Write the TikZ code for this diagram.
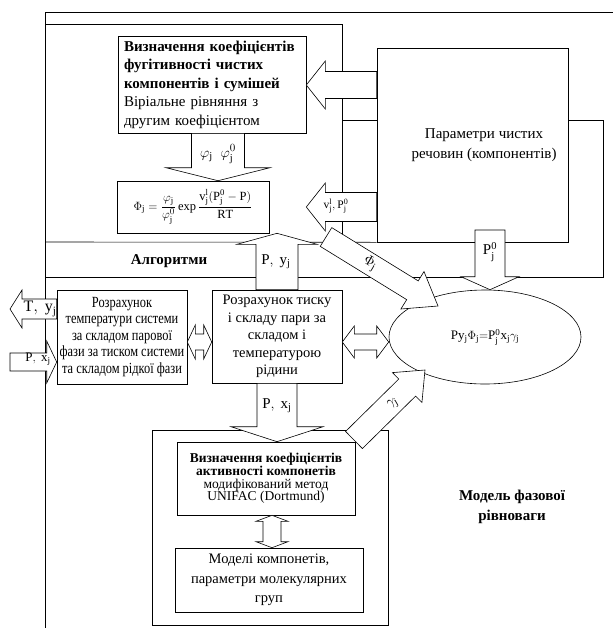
\documentclass[tikz,border=0pt]{standalone}
\usepackage{amsmath}
\usepackage{fontspec}
\setmainfont{Liberation Serif}
\newfontfamily\narrowfont{Liberation Serif}[FakeStretch=0.8]
\usetikzlibrary{calc,shapes.geometric}

\newcommand{\fs}{\fontsize{15}{18.5}\selectfont}
\tikzset{
  box/.style={draw, rectangle, inner sep=3pt, align=center, font=\fs},
  blockline/.style={draw, fill=white},
}
% hollow block arrow: from, to, shaft half width, head half width, head length
\newcommand{\blockarrow}[5]{%
  \coordinate (hb) at ($(#2)!#5!(#1)$);
  \path[blockline] ($(#1)!#3!90:(#2)$) -- ($(hb)!#3!90:(#2)$) -- ($(hb)!#4!90:(#2)$) -- (#2)
    -- ($(hb)!#4!-90:(#2)$) -- ($(hb)!#3!-90:(#2)$) -- ($(#1)!#3!-90:(#2)$) -- cycle;
}
% hollow double arrow
\newcommand{\dblarrow}[5]{%
  \coordinate (ha) at ($(#1)!#5!(#2)$);
  \coordinate (hb) at ($(#2)!#5!(#1)$);
  \path[blockline] (#1) -- ($(ha)!#4!90:(#2)$) -- ($(ha)!#3!90:(#2)$) -- ($(hb)!#3!90:(#2)$)
    -- ($(hb)!#4!90:(#2)$) -- (#2) -- ($(hb)!#4!-90:(#2)$) -- ($(hb)!#3!-90:(#2)$)
    -- ($(ha)!#3!-90:(#2)$) -- ($(ha)!#4!-90:(#2)$) -- cycle;
}

\begin{document}
\begin{tikzpicture}[x=1pt, y=-1pt, line width=0.6pt]
\useasboundingbox (0,0) rectangle (613,630);

% frames
\draw (45,12) -- (613,12);
\draw (45,12) -- (45,628);
\draw (45,24) -- (342,24) -- (342,242);
\draw (152,430) rectangle (388,625);

% boxes
\node[box, minimum width=188, minimum height=97, text width=176, align=left] (fug) at (212,84.5)
  {\textbf{Визначення коефіцієнтів}\\ \textbf{фугітивності чистих}\\ \textbf{компонентів і сумішей}\\ Віріальне рівняння з\\ другим коефіцієнтом};
\node[box, minimum width=152, minimum height=52, font=\fontsize{12.5}{14}\selectfont, inner sep=1pt] (form) at (193,207)
  {$\Phi_\mathrm{j}=\dfrac{\varphi_\mathrm{j}}{\varphi_\mathrm{j}^0}\exp\dfrac{\mathrm{v_j^l(P_j^0-P)}}{\mathrm{RT}}$};
\node[box, minimum width=191, minimum height=194] (par) at (472.5,145) {};
\node[font=\fontsize{15}{20}\selectfont, align=center] (partext) at (484,145) {Параметри чистих\\ речовин (компонентів)};
\node[box, minimum width=130, minimum height=94, inner sep=1pt, font=\narrowfont\fontsize{15.5}{16.5}\selectfont] (temp) at (122,337)
  {Розрахунок\\ температури системи\\ за складом парової\\ фази за тиском системи\\ та складом рідкої фази};
\node[box, minimum width=130, minimum height=93, font=\fontsize{14.5}{17.5}\selectfont] (calc) at (277,336.5)
  {Розрахунок тиску\\ і складу пари за\\ складом і\\ температурою\\ рідини};
\node[draw, ellipse, minimum width=192, minimum height=94, inner sep=0pt, font=\fontsize{13}{15}\selectfont] (eq) at (485,337)
  {$\mathrm{Py_j}\Phi_\mathrm{j}{=}\mathrm{P_j^0x_j}\gamma_\mathrm{j}$};
\node[box, minimum width=178, minimum height=73, font=\fontsize{13.5}{12.8}\selectfont] (act) at (266,478.5)
  {\textbf{Визначення коефіцієнтів}\\ \textbf{активності компонетів}\\ модифікований метод\\ UNIFAC (Dortmund)};
\node[box, minimum width=188, minimum height=64, font=\fontsize{14.5}{19.5}\selectfont] (mod) at (269,580)
  {Моделі компонетів,\\ параметри молекулярних\\ груп};

% lines of the algorithm block
\draw (342,120) -- (par.west |- 0,120);
\draw (45,242) -- (par.south west);
\draw (par.east |- 0,120) -- (603,120) -- (603,277) -- (45,277);
\node[font=\bfseries\fs] (alg) at (169,261) {Алгоритми};
\node[font=\bfseries\fontsize{15}{20}\selectfont, align=center] (model) at (512,507) {Модель фазової\\ рівноваги};

% block arrows
\coordinate (a1s) at (par.west |- 0,85);   \coordinate (a1e) at (fug.east |- 0,85);
\blockarrow{a1s}{a1e}{13.5pt}{24pt}{19pt}
\coordinate (a2s) at (par.west |- 0,207);  \coordinate (a2e) at (fug.east |- 0,207);
\blockarrow{a2s}{a2e}{14.5pt}{24pt}{19pt}
\coordinate (a3s) at (fug.south -| 218,0); \coordinate (a3e) at (form.north -| 218,0);
\blockarrow{a3s}{a3e}{26.5pt}{52pt}{13pt}
\coordinate (a4e) at (form.south -| calc.north);
\blockarrow{calc.north}{a4e}{21pt}{40pt}{11pt}
\coordinate (a5s) at (326,237);            \coordinate (a5e) at (438,306);
\blockarrow{a5s}{a5e}{11pt}{22pt}{30pt}
\coordinate (a6s) at (490,230);            \coordinate (a6e) at (eq.north -| 490,0);
\blockarrow{a6s}{a6e}{15pt}{29pt}{13pt}
\coordinate (a7s) at (temp.west |- 0,309); \coordinate (a7e) at (10,309);
\blockarrow{a7s}{a7e}{10pt}{19pt}{12pt}
\coordinate (a8s) at (10,362);             \coordinate (a8e) at (temp.west |- 0,362);
\blockarrow{a8s}{a8e}{9pt}{21pt}{10pt}
\coordinate (a9s) at (temp.east |- 0,342); \coordinate (a9e) at (calc.west |- 0,342);
\dblarrow{a9s}{a9e}{8pt}{17pt}{8pt}
\coordinate (a10s) at (calc.east |- 0,342); \coordinate (a10e) at (eq.west |- 0,342);
\dblarrow{a10s}{a10e}{8pt}{16pt}{12pt}
\coordinate (a11e) at (act.north -| calc.south);
\blockarrow{calc.south}{a11e}{20pt}{46pt}{15pt}
\coordinate (a12s) at (354,440);           \coordinate (a12e) at (425,370);
\blockarrow{a12s}{a12e}{12pt}{21pt}{25pt}
\coordinate (a13s) at (act.south -| 272,0); \coordinate (a13e) at (mod.north -| 272,0);
\dblarrow{a13s}{a13e}{9pt}{16pt}{6pt}

% arrow labels
\node[font=\fs] (lphi) at (218,154) {$\varphi_\mathrm{j}\;\;\varphi_\mathrm{j}^0$};
\node[font=\fontsize{11.5}{13}\selectfont, inner sep=0pt] (lvp) at (336,206) {$\mathrm{v_j^l,P_j^0}$};
\node[font=\fs] (lpy) at (276,262) {$\mathrm{P,\ y_j}$};
\node[font=\fs, rotate=-30] (lPhi) at (370,264) {$\Phi_\mathrm{j}$};
\node[font=\fs] (lp0) at (490,252) {$\mathrm{P_j^0}$};
\node[font=\fontsize{16}{18}\selectfont] (lty) at (40,309) {$\mathrm{T,\ y_j}$};
\node[font=\fontsize{13}{15}\selectfont] (lpx) at (38,359) {$\mathrm{P,\ x_j}$};
\node[font=\fs] (lpx2) at (277,406) {$\mathrm{P,\ x_j}$};
\node[font=\fs, rotate=30] (lgam) at (393,404) {$\gamma_\mathrm{j}$};
\end{tikzpicture}
\end{document}
